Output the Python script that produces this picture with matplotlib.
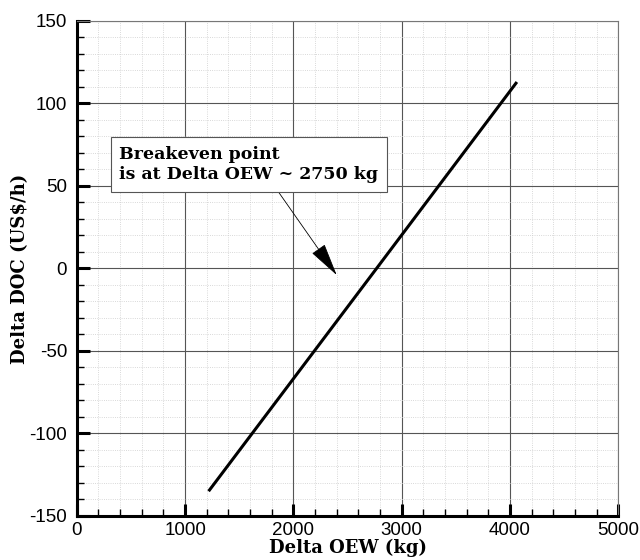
import numpy as np
import matplotlib.pyplot as plt
from matplotlib.ticker import MultipleLocator

plt.rcParams['axes.unicode_minus'] = False

# Data (straight line)
delta_oew = [1217, 2768, 4064]   # kg
delta_doc = [-135, 0, 113]       # US$/h

note_text = 'Breakeven point\nis at Delta OEW ~ 2750 kg'
note_xy = (2400, -4)        # arrow tip
note_text_xy = (1590, 63)   # text centre

fig = plt.figure(figsize=(6.4, 5.6), dpi=100)
ax = fig.add_axes([0.120, 0.0786, 0.846, 0.884])

ax.plot(delta_oew, delta_doc, color='black', lw=2.2, solid_capstyle='butt')

ax.set_xlim(0, 5000)
ax.set_ylim(-150, 150)
ax.xaxis.set_major_locator(MultipleLocator(1000))
ax.xaxis.set_minor_locator(MultipleLocator(200))
ax.yaxis.set_major_locator(MultipleLocator(50))
ax.yaxis.set_minor_locator(MultipleLocator(10))

ax.grid(True, which='major', color='#555555', lw=0.8)
ax.grid(True, which='minor', color='#cccccc', lw=0.6, ls=':')
ax.set_axisbelow(True)

ax.tick_params(which='major', direction='in', length=9, width=2.2,
               labelsize=13.5, top=False, right=False)
ax.tick_params(axis='x', which='major', pad=4)
ax.tick_params(axis='y', which='major', pad=7)
ax.tick_params(which='minor', direction='in', length=5, width=1,
               top=False, right=False)
for lab in ax.get_xticklabels() + ax.get_yticklabels():
    lab.set_family('Liberation Sans')

ax.spines['left'].set_linewidth(2.2)
ax.spines['bottom'].set_linewidth(2.2)
ax.spines['top'].set_color('#777777')
ax.spines['right'].set_color('#777777')
ax.spines['top'].set_linewidth(0.8)
ax.spines['right'].set_linewidth(0.8)

ax.set_xlabel('Delta OEW (kg)', family='DejaVu Serif', fontweight='bold',
              fontsize=13, labelpad=0)
ax.set_ylabel('Delta DOC (US\\$/h)', family='DejaVu Serif', fontweight='bold',
              fontsize=13, labelpad=0)

ax.annotate(note_text, xy=note_xy, xytext=note_text_xy,
            family='DejaVu Serif', fontweight='bold', fontsize=12.5,
            ha='center', va='center', multialignment='left', linespacing=1.25,
            bbox=dict(boxstyle='square,pad=0.5', fc='white', ec='#555555', lw=0.8),
            arrowprops=dict(arrowstyle='-|>,head_length=1.7,head_width=0.4',
                            color='black', lw=0.6, shrinkA=0, shrinkB=0,
                            relpos=(0.59, 0.0)))

plt.savefig('out.png', dpi=100)
